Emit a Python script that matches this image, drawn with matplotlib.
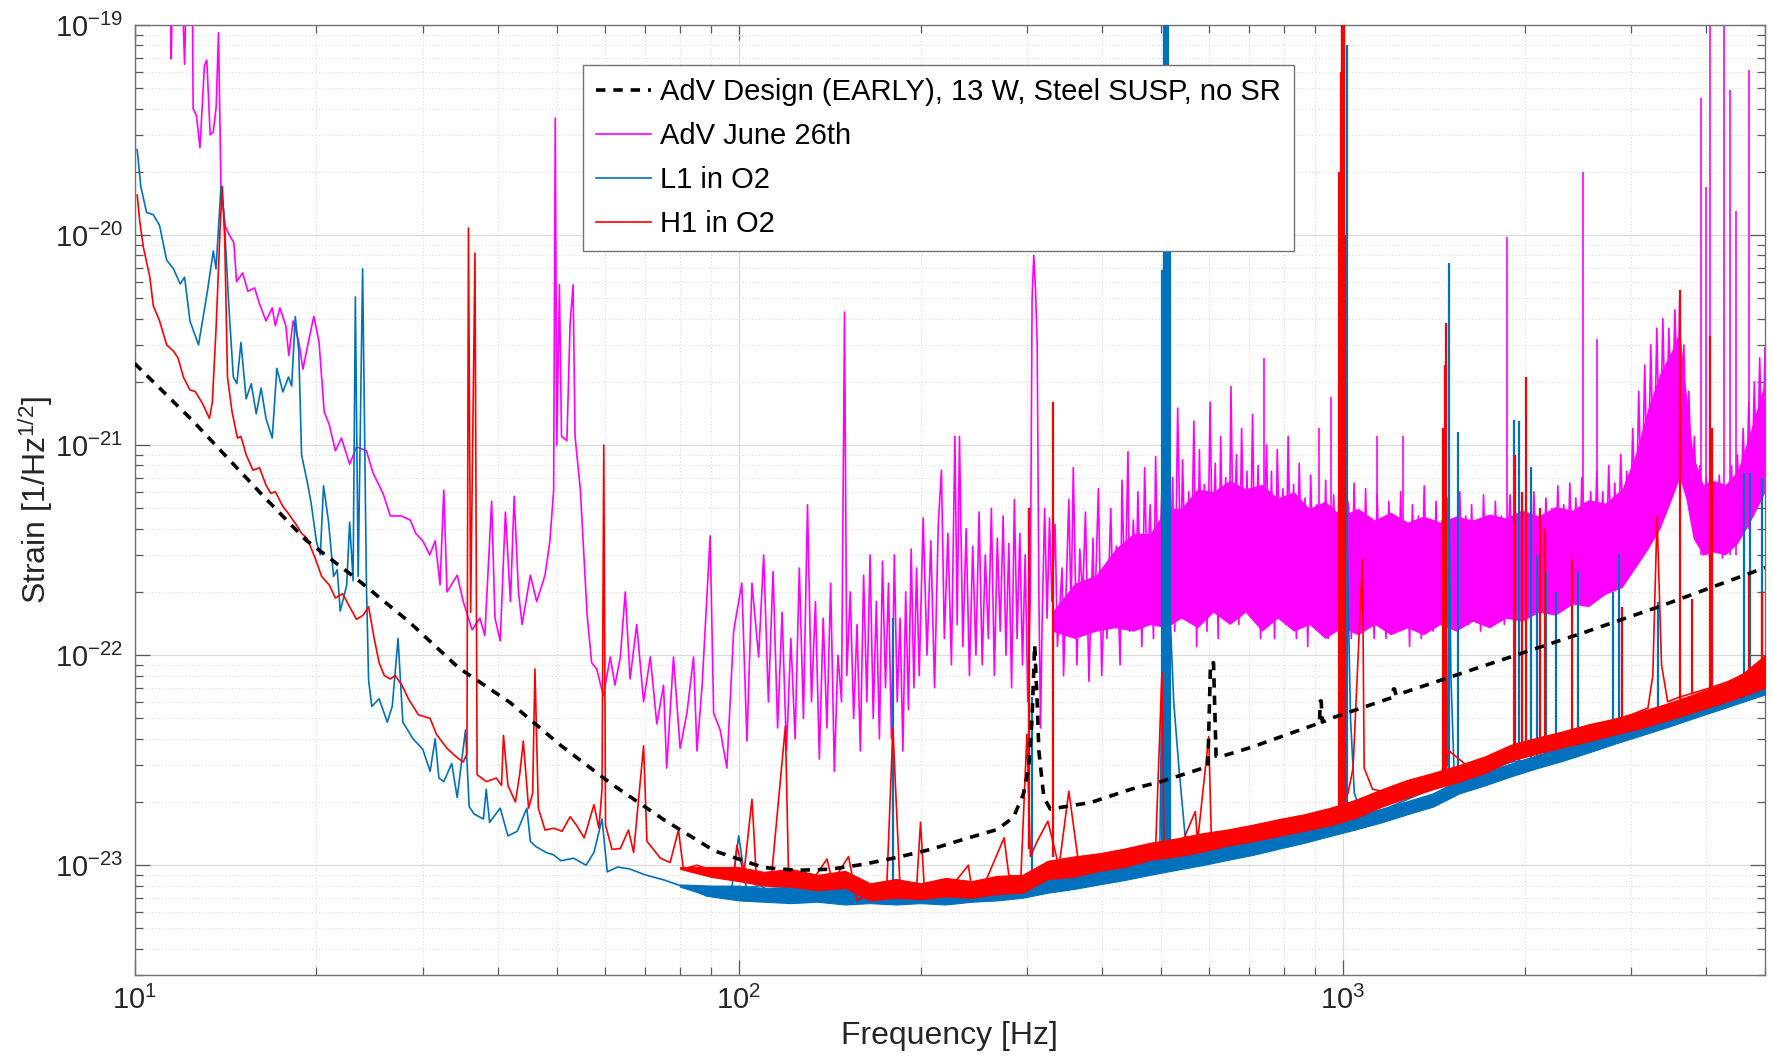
import matplotlib
matplotlib.use("Agg")
import matplotlib.pyplot as plt
from matplotlib.ticker import LogLocator, FixedLocator, NullFormatter

plt.rcParams['font.family'] = ['Liberation Sans', 'DejaVu Sans']
plt.rcParams['mathtext.fontset'] = 'custom'
plt.rcParams['mathtext.rm'] = 'Liberation Sans'
plt.rcParams['mathtext.it'] = 'Liberation Sans:italic'
plt.rcParams['mathtext.bf'] = 'Liberation Sans:bold'
plt.rcParams['mathtext.default'] = 'rm'

# ---------------- data ----------------
design_freq = [10, 12.5, 16.4, 19.2, 23.3, 28.4, 34.4, 41.9, 50.8, 61.8, 75.1, 91.2, 110, 125,
               142, 161, 183, 208, 236, 268, 285, 296, 302, 306, 309, 312, 314, 320, 328, 383,
               446, 500, 598, 604, 611, 617, 635, 703, 915, 918, 921, 925, 965, 1210, 1213,
               1218, 1225, 1846, 2504, 3355, 5000]
design_strain = [2.45e-21, 1.3e-21, 5.65e-22, 3.54e-22, 2.31e-22, 1.45e-22, 8.7e-23, 5.93e-23,
                 3.71e-23, 2.42e-23, 1.65e-23, 1.17e-23, 9.75e-24, 9.46e-24, 9.57e-24, 1.01e-23,
                 1.09e-23, 1.19e-23, 1.33e-23, 1.48e-23, 1.69e-23, 2.18e-23, 2.91e-23, 5.03e-23,
                 1.12e-22, 6.0e-23, 3.5e-23, 2.1e-23, 1.85e-23, 1.99e-23, 2.3e-23, 2.5e-23,
                 2.95e-23, 9.2e-23, 9.2e-23, 3.3e-23, 3.32e-23, 3.63e-23, 4.75e-23, 6.05e-23,
                 6.05e-23, 4.8e-23, 5.05e-23, 6.3e-23, 6.9e-23, 6.9e-23, 6.45e-23, 9.56e-23,
                 1.28e-22, 1.71e-22, 2.61e-22]

adv_freq = [11.45, 11.5, 11.6, 11.9, 12.1, 12.25, 12.45, 12.5, 12.66, 12.83, 13.05, 13.17, 13.34,
            13.5, 13.65, 13.77, 13.9, 14.13, 14.35, 14.6, 14.75, 15.1, 15.4, 15.8, 16.1, 16.5,
            16.9, 17.1, 17.4, 17.8, 18.0, 18.3, 18.7, 19.0, 19.4, 19.8, 20.2, 20.6, 21.0, 21.5,
            22.0, 22.7, 23.3, 24.2, 24.8, 25.8, 26.5, 27.6, 28.6, 29.2, 30.0, 30.8, 31.45, 32.04,
            32.5, 32.9, 34.2, 35.0, 36.2, 37.3, 38.0, 39.0, 39.5, 40.3, 41.1, 41.9, 42.5, 43.2,
            43.8, 45.2, 46.3, 47.8, 48.7, 49.4, 49.7, 50.0, 50.5, 50.9, 51.96, 52.6, 53.2, 53.6,
            54.7, 56.1, 57.1, 58.2, 59.7, 61.3, 62.4, 63.7, 64.9, 66.1, 67.8, 69.6, 71.4, 73.2,
            75.1, 76.0, 78.0, 80.0, 82.1, 84.2, 85.3, 87.0, 89.7, 90.9, 93.2, 95.6, 98.1, 101.2,
            103.2, 105.2, 107.9, 110, 112, 114, 116, 118, 120, 122, 124, 126, 128, 130, 132, 134,
            136, 138, 140, 142, 144, 146, 148, 149.7, 151, 153, 155, 157, 159, 161, 163, 165,
            167, 169, 171, 173, 175, 177, 179, 181, 183, 185, 187, 189, 191, 193, 195, 197, 199,
            202, 205, 208, 211, 214, 216.6, 219, 222, 225, 228, 230, 232, 235, 238, 241, 244,
            247, 250, 253, 256, 259, 262, 265, 268, 271, 274, 277, 280, 283, 286, 289, 292, 295,
            298, 301, 304, 306, 308, 310, 312, 314, 316, 318, 321, 324, 327,
            330, 334, 337, 343, 345, 352, 355, 358, 363, 367, 371, 375, 380, 386, 388, 394, 399,
            404, 407, 413, 417, 422, 428, 431, 436, 441, 444, 450, 455, 458, 465, 470, 474, 480,
            486, 490, 495, 502, 507, 512, 518, 523, 527, 533, 539, 543, 551, 556, 561, 567, 573,
            579, 584, 590, 596, 603, 609, 615, 622, 628, 633, 640, 647, 653, 659, 667, 673, 680,
            688, 694, 701, 709, 716, 724, 731, 748, 755, 762, 771, 779, 788, 796, 804, 812, 821,
            829, 838, 847, 857, 866, 875, 885, 895, 905, 928, 937, 946, 966, 976, 987, 1022, 1033,
            1044, 1056, 1067, 1079, 1091, 1103, 1115, 1127, 1140, 1153, 1166, 1179, 1192, 1206,
            1219, 1233, 1247, 1261, 1275, 1290, 1304, 1319, 1334, 1349, 1364, 1380, 1395, 1411,
            1427, 1443, 1460, 1476, 1493, 1510, 1527, 1544, 1562, 1580, 1598, 1616, 1634, 1653,
            1672, 1691, 1710, 1729, 1749, 1769, 1789, 1809, 1830, 1851, 1892, 1914, 1936, 1958,
            1980, 2003, 2026, 2049, 2072, 2096, 2120, 2144, 2169, 2193, 2219, 2244, 2270, 2296,
            2322, 2349, 2376, 2403, 2431, 2459, 2487, 2544, 2573, 2603, 2633, 2663, 2694, 2725,
            2756, 2788, 2820, 2852, 2885, 2918, 2952, 2986, 3020, 3055, 3090, 3125, 3161, 3198,
            3235, 3272, 3310, 3348, 3387, 3426, 3466, 3506, 3546, 3587, 3611, 3640, 3670, 3700,
            3740, 3780, 3820, 3860, 3900, 3950, 4000, 4050, 4100, 4150, 4200, 4250, 4300, 4350,
            4400, 4450, 4500, 4550, 4600, 4650, 4700, 4750, 4800, 4850, 4900, 4950, 5000]
adv_strain = [3e-19, 6.9e-20, 3e-19, 3e-19, 6.5e-20, 3e-19, 3e-19, 4.0e-20, 3.7e-20, 2.6e-20,
              6.4e-20, 6.8e-20, 3.0e-20, 3.1e-20, 4.1e-20, 9.2e-20, 1.7e-20, 1.1e-20, 1.0e-20,
              9.2e-21, 6.0e-21, 6.6e-21, 5.4e-21, 5.6e-21, 4.7e-21, 3.9e-21, 4.5e-21, 3.7e-21,
              4.5e-21, 3.7e-21, 2.67e-21, 3.9e-21, 3.1e-21, 2.3e-21, 3.1e-21, 4.1e-21, 3.1e-21,
              1.44e-21, 1.25e-21, 9.4e-22, 1.08e-21, 8.1e-22, 9.8e-22, 9.4e-22, 7.4e-22, 5.85e-22,
              4.6e-22, 4.6e-22, 4.4e-22, 3.8e-22, 3.5e-22, 3.0e-22, 3.5e-22, 2.16e-22, 6.1e-22,
              2.0e-22, 2.4e-22, 1.8e-22, 1.32e-22, 1.5e-22, 1.24e-22, 5.4e-22, 1.5e-22, 1.17e-22,
              4.8e-22, 1.8e-22, 5.7e-22, 2.0e-22, 1.4e-22, 2.4e-22, 1.8e-22, 2.4e-22, 3.5e-22,
              6.1e-22, 3.6e-20, 1.0e-21, 5.8e-21, 1.1e-21, 1.05e-21, 3.8e-21, 5.8e-21, 1.1e-21,
              6.1e-22, 1.58e-22, 9.2e-23, 8.6e-23, 6.4e-23, 9.8e-23, 7.2e-23, 9.8e-23, 2.0e-22,
              7.7e-23, 1.4e-22, 6.0e-23, 9.8e-23, 4.7e-23, 7.2e-23, 2.9e-23, 9.8e-23, 3.6e-23,
              5.3e-23, 9.8e-23, 3.5e-23, 7.2e-23, 3.7e-22, 5.3e-23, 4.4e-23, 2.9e-23, 1.3e-22,
              2.2e-22, 3.9e-23, 2.2e-22, 9.8e-23, 3.0e-22, 6e-23, 2.5e-22, 4.5e-23, 1.6e-22,
              3.5e-23, 1.2e-22, 4e-23, 2.6e-22, 5e-23, 5.2e-22, 6e-23, 1.8e-22, 3.2e-23, 1.5e-22,
              4.5e-23, 2.2e-22, 2.8e-23, 1.0e-22, 6e-23, 4.3e-21, 8e-23, 2.0e-22, 5e-23, 1.4e-22,
              3.5e-23, 2.4e-22, 6e-23, 3.0e-22, 5e-23, 1.8e-22, 4e-23, 2.8e-22, 7e-23, 2.2e-22,
              4e-23, 3.0e-22, 6e-23, 1.5e-22, 3.5e-23, 2.0e-22, 5.5e-23, 3.2e-22, 7e-23, 2.6e-22,
              8e-23, 4.5e-22, 1.0e-22, 3.5e-22, 7e-23, 4.2e-22, 7.6e-22, 1.2e-22, 3.8e-22, 9e-23,
              1.1e-21, 1.4e-22, 1.1e-21, 1.1e-22, 4.0e-22, 8e-23, 3.3e-22, 1.0e-22, 4.8e-22,
              9e-23, 3.0e-22, 1.2e-22, 5e-22, 8e-23, 3.6e-22, 1.3e-22, 4.6e-22, 1.0e-22, 3.4e-22,
              7e-23, 5.5e-22, 1.2e-22, 3.8e-22, 9e-23, 3.0e-22, 6e-23, 2.0e-22, 5e-21, 8.0e-21,
              5.5e-21, 3e-21, 2e-22, 4.5e-23, 1.5e-22, 5e-22, 1.5e-22, 4.5e-22,
              1.8e-22, 4.2e-22, 1.1e-22, 2.6e-22, 8e-23, 5.5e-22, 1.6e-22, 7.8e-22, 9e-23, 3.2e-22,
              1.9e-22, 4.8e-22, 7.5e-23, 3.6e-22, 1.4e-22, 6.2e-22, 8e-23, 2.4e-22, 1.2e-22,
              5.0e-22, 1.5e-22, 3.3e-22, 9e-23, 6.8e-22, 1.8e-22, 9.3e-22, 1.3e-22, 4.4e-22,
              2.1e-22, 6.0e-22, 1.1e-22, 7.8e-22, 2.3e-22, 5.2e-22, 1.2e-22, 8.8e-22, 1.9e-22,
              6.2e-22, 1.4e-22, 1.15e-21, 2.4e-22, 7e-22, 1.3e-22, 1.5e-21, 2.6e-22, 8.5e-22,
              1.5e-22, 6.0e-22, 2.2e-22, 1.3e-21, 1.1e-22, 9.5e-22, 2.3e-22, 6.5e-22, 1.3e-22,
              1.6e-21, 2.5e-22, 8.2e-22, 1.2e-22, 1.1e-21, 2.6e-22, 7e-22, 1.5e-22, 1.9e-21,
              2.8e-22, 9e-22, 1.4e-22, 1.2e-21, 2.2e-22, 7.5e-22, 1.6e-22, 1.4e-21, 2.0e-22, 8e-22,
              1.2e-22, 1.0e-21, 1.8e-22, 7.5e-22, 1.2e-22, 9.5e-22, 2.2e-22, 6.2e-22, 1.4e-22,
              1.1e-21, 2.1e-22, 6.5e-22, 1.2e-22, 8.2e-22, 2.0e-22, 5.6e-22, 1.1e-22, 7.2e-22,
              1.7e-22, 5.2e-22, 1.9e-22, 6.8e-22, 1.2e-22, 5.8e-22, 1.6e-22, 7.5e-22, 5.2e-22,
              1.2e-22, 6.6e-22, 1.8e-22, 4.6e-22, 1.3e-22, 6.2e-22, 1.5e-22, 4.2e-22, 1.2e-22,
              5.8e-22, 1.9e-22, 4.4e-22, 1.2e-22, 5.4e-22, 1.6e-22, 4.0e-22, 1.3e-22, 6.0e-22,
              1.7e-22, 4.2e-22, 1.1e-22, 5.2e-22, 1.9e-22, 4.6e-22, 1.2e-22, 6.4e-22, 1.7e-22,
              4.0e-22, 1.3e-22, 5.4e-22, 1.6e-22, 4.4e-22, 1.2e-22, 5.6e-22, 2.0e-22, 4.1e-22,
              1.4e-22, 6.0e-22, 1.8e-22, 4.6e-22, 1.4e-22, 5.2e-22, 1.7e-22, 4.3e-22, 1.3e-22,
              5.8e-22, 2.0e-22, 4.4e-22, 1.5e-22, 5.4e-22, 1.8e-22, 4.6e-22, 1.4e-22, 5.8e-22,
              2.0e-22, 4.6e-22, 1.6e-22, 5.4e-22, 2.1e-22, 4.5e-22, 1.6e-22, 6.0e-22, 2.0e-22,
              4.8e-22, 1.7e-22, 5.6e-22, 2.2e-22, 5.0e-22, 1.8e-22, 6.4e-22, 2.2e-22, 5.2e-22,
              1.9e-22, 6.6e-22, 2.3e-22, 5.6e-22, 2.0e-22, 7e-22, 2.4e-22, 6.0e-22, 2.1e-22,
              7.5e-22, 2.6e-22, 6.0e-22, 2.3e-22, 8e-22, 2.7e-22, 6.6e-22, 2.5e-22, 9e-22, 3.0e-22,
              7.5e-22, 3.2e-22, 1.2e-21, 3.6e-22, 1.8e-21, 4.2e-22, 2.4e-21, 5.0e-22, 3.0e-21,
              6e-22, 3.6e-21, 7e-22, 4.0e-21, 9e-22, 3.6e-21, 1.1e-21, 4.4e-21, 1.5e-21, 4.9e-21,
              1.3e-21, 3.0e-21, 9e-22, 1.8e-21, 6e-22, 1.1e-21, 4e-22, 8e-22, 3.0e-22, 7e-22,
              2.8e-22, 6.5e-22, 3.2e-22, 7.2e-22, 2.9e-22, 6.2e-22, 3.3e-22, 8e-22, 3.4e-22, 9e-22,
              4e-22, 1.2e-21, 4.5e-22, 1.6e-21, 5e-22, 2.0e-21, 6e-22, 2.6e-21, 7e-22, 2.9e-21]

# dense core of the AdV spectrum above ~330 Hz (the part that looks solid)
adv_core_freq = [330, 360, 390, 420, 450, 480, 510, 540, 575, 610, 650, 690, 735, 780, 830, 880,
                 935, 995, 1060, 1130, 1200, 1280, 1360, 1450, 1540, 1640, 1750, 1860, 1980, 2110,
                 2250, 2400, 2550, 2720, 2900, 3050, 3200, 3350, 3500, 3611, 3700, 3800, 3950,
                 4100, 4300, 4500, 4700, 4850, 5000]
adv_core_low = [1.3e-22, 1.2e-22, 1.3e-22, 1.35e-22, 1.3e-22, 1.4e-22, 1.35e-22, 1.5e-22, 1.35e-22,
                1.6e-22, 1.4e-22, 1.6e-22, 1.3e-22, 1.5e-22, 1.3e-22, 1.4e-22, 1.2e-22, 1.35e-22,
                1.25e-22, 1.4e-22, 1.25e-22, 1.35e-22, 1.25e-22, 1.4e-22, 1.3e-22, 1.45e-22,
                1.35e-22, 1.5e-22, 1.45e-22, 1.6e-22, 1.55e-22, 1.75e-22, 1.7e-22, 1.95e-22,
                2.1e-22, 2.6e-22, 3.2e-22, 4.0e-22, 5.5e-22, 7e-22, 5.5e-22, 3.6e-22, 3.0e-22,
                3.1e-22, 3.0e-22, 3.4e-22, 4.2e-22, 5.0e-22, 6.0e-22]
adv_core_high = [1.6e-22, 2.2e-22, 2.4e-22, 3.2e-22, 3.8e-22, 3.8e-22, 5.0e-22, 5.0e-22, 6.2e-22,
                 6.0e-22, 6.8e-22, 6.2e-22, 6.5e-22, 5.6e-22, 6.0e-22, 5.0e-22, 5.4e-22, 4.6e-22,
                 5.0e-22, 4.4e-22, 4.8e-22, 4.3e-22, 4.6e-22, 4.3e-22, 4.6e-22, 4.4e-22, 4.7e-22,
                 4.5e-22, 4.9e-22, 4.6e-22, 5.1e-22, 4.9e-22, 5.5e-22, 5.3e-22, 6.2e-22, 9e-22,
                 1.5e-21, 2.2e-21, 2.8e-21, 3.5e-21, 1.8e-21, 9e-22, 6.5e-22, 6.8e-22, 6.5e-22,
                 7.5e-22, 1.1e-21, 1.5e-21, 2.0e-21]

adv_line_freq = [740, 915, 956, 1140, 1260, 1870, 2500, 2640, 3917, 4000, 4050, 4270, 4380, 4480,
                 4700]
adv_line_base = [2e-22, 1.5e-22, 1.5e-22, 1.5e-22, 1.5e-22, 1.6e-22, 2e-22, 2e-22, 3e-22, 3e-22,
                 3e-22, 3e-22, 3e-22, 3e-22, 4e-22]
adv_line_top = [2.6e-21, 1.2e-21, 1.7e-21, 1.1e-21, 1.1e-21, 9.8e-21, 2.0e-20, 3.2e-21, 4.5e-20,
                1.7e-20, 3e-19, 3e-19, 4.9e-20, 1.3e-20, 6.1e-20]

l1_freq = [10.1, 10.24, 10.47, 10.74, 11.0, 11.3, 11.6, 11.9, 12.1, 12.35, 12.76, 13.2, 13.5, 13.64,
           13.9, 14.07, 14.3, 14.57, 14.77, 15.0, 15.3, 15.6, 15.9, 16.2, 16.5, 16.9, 17.2, 17.6,
           17.98, 18.2, 18.45, 18.7, 18.9, 19.3, 19.6, 20.0, 20.3, 20.55, 20.93, 21.35, 21.65,
           21.9, 22.45, 22.7, 23.0, 23.2, 23.45, 23.85, 24.2, 24.4, 24.7, 25.4, 26.2, 26.7, 27.3,
           27.8, 28.9, 30.0, 30.85, 31.45, 31.9, 32.5, 33.5, 34.2, 35.3, 35.8, 36.5, 37.8, 38.2,
           38.7, 40.3, 41.5, 43, 44.6, 45.2, 46.1, 48, 49.4, 50.8, 53.3, 55.9, 57.6, 59.4, 60.6,
           63, 66, 70, 75.3, 80, 85.2, 88.9, 93, 97, 100, 103, 108.5, 115, 125, 135, 145, 155, 165,
           175, 185, 195, 205, 220, 235, 250, 265, 280, 295, 310, 325, 340, 360, 380, 400, 430,
           460, 490, 498, 503, 510, 518, 525, 535, 548, 570, 600, 650, 700, 760, 820, 880, 940,
           990, 1012, 1020, 1030, 1045, 1080, 1150, 1250, 1350, 1450, 1490, 1500, 1510, 1530, 1600,
           1700, 1800, 1900, 2000, 2200, 2400, 2600, 2800, 3000, 3200, 3300, 3400, 3600, 3800, 4000,
           4300, 4600, 5000]
l1_strain = [2.55e-20, 1.70e-20, 1.28e-20, 1.25e-20, 1.11e-20, 7.6e-21, 6.9e-21, 5.85e-21, 6.3e-21,
             3.9e-21, 3.0e-21, 5.4e-21, 8.4e-21, 6.9e-21, 1.7e-20, 1.22e-20, 4.95e-21, 2.11e-21,
             1.96e-21, 3.08e-21, 1.66e-21, 1.96e-21, 1.41e-21, 1.87e-21, 1.34e-21, 1.08e-21,
             2.32e-21, 1.79e-21, 2.11e-21, 1.91e-21, 4.09e-21, 2.8e-21, 8.97e-22, 6.75e-22, 5.3e-22,
             3.47e-22, 3.0e-22, 6.4e-22, 4.4e-22, 2.37e-22, 2.55e-22, 1.62e-22, 2.16e-22, 4.3e-22,
             2.26e-22, 5.07e-21, 2.37e-22, 6.9e-21, 2.16e-22, 7.6e-23, 5.7e-23, 6.2e-23, 4.8e-23,
             5.7e-23, 1.2e-22, 4.8e-23, 4.0e-23, 3.56e-23, 2.8e-23, 4.0e-23, 2.6e-23, 2.5e-23,
             3.05e-23, 2.1e-23, 4.4e-23, 1.9e-23, 1.75e-23, 1.66e-23, 2.3e-23, 1.6e-23, 1.87e-23,
             1.38e-23, 1.45e-23, 1.87e-23, 1.3e-23, 1.23e-23, 1.15e-23, 1.12e-23, 1.05e-23,
             1.08e-23, 1.0e-23, 1.15e-23, 1.66e-23, 9.3e-24, 9.8e-24, 9.6e-24, 9.0e-24, 8.5e-24,
             8.0e-24, 7.5e-24, 7.1e-24, 7.4e-24, 7.1e-24, 1.38e-23, 7.8e-24, 8.0e-24, 7.3e-24,
             7.8e-24, 7.2e-24, 7.6e-24, 7.0e-24, 7.5e-24, 7.1e-24, 7.4e-24, 6.9e-24, 7.3e-24,
             7.0e-24, 7.4e-24, 7.1e-24, 7.6e-24, 7.3e-24, 7.8e-24, 8.0e-24, 8.4e-24, 8.2e-24,
             8.6e-24, 8.9e-24, 9.0e-24, 9.6e-24, 1.0e-23, 1.05e-23, 1.2e-23, 1.5e-22, 2.5e-22,
             1.5e-22, 6e-23, 3e-23, 1.4e-23, 1.12e-23, 1.15e-23, 1.2e-23, 1.2e-23, 1.3e-23, 1.35e-23,
             1.42e-23, 1.5e-23, 1.6e-23, 8e-22, 2e-22, 5e-23, 2.2e-23, 1.7e-23, 1.8e-23, 2.0e-23,
             2.2e-23, 2.4e-23, 3e-23, 5e-22, 8e-23, 2.6e-23, 2.5e-23, 2.75e-23, 2.95e-23, 3.1e-23,
             3.15e-23, 3.4e-23, 3.7e-23, 3.95e-23, 4.3e-23, 4.5e-23, 4.8e-23, 5.5e-23, 5.0e-23,
             5.2e-23, 5.6e-23, 5.8e-23, 6.1e-23, 6.5e-23, 7.0e-23]

o2_band_freq = [80, 90, 100, 110, 122, 135, 150, 165, 182, 200, 220, 243, 268, 295, 325,
                358, 395, 435, 480, 530, 585, 645, 710, 785, 865, 955, 1050, 1160, 1280, 1410,
                1560, 1720, 1900, 2100, 2320, 2560, 2830, 3120, 3450, 3800, 4200, 4600, 5000]
l1_band_low = [7.9e-24, 7.1e-24, 6.8e-24, 6.7e-24, 6.6e-24, 6.7e-24, 6.5e-24,
               6.6e-24, 6.5e-24, 6.6e-24, 6.5e-24, 6.7e-24, 6.8e-24, 7.0e-24, 7.4e-24, 7.7e-24,
               8.1e-24, 8.5e-24, 9.0e-24, 9.5e-24, 1.0e-23, 1.06e-23, 1.12e-23, 1.2e-23, 1.28e-23,
               1.38e-23, 1.48e-23, 1.6e-23, 1.75e-23, 1.9e-23, 2.2e-23, 2.4e-23, 2.65e-23, 2.9e-23,
               3.15e-23, 3.45e-23, 3.8e-23, 4.15e-23, 4.55e-23, 5.0e-23, 5.5e-23, 6.0e-23, 6.5e-23]
l1_band_high = [8.1e-24, 8.0e-24, 8.0e-24, 7.8e-24, 7.9e-24, 7.7e-24, 7.8e-24,
                7.6e-24, 7.7e-24, 7.6e-24, 7.8e-24, 7.8e-24, 8.0e-24, 8.3e-24, 8.8e-24, 9.1e-24,
                9.5e-24, 1.0e-23, 1.07e-23, 1.12e-23, 1.18e-23, 1.25e-23, 1.32e-23, 1.4e-23,
                1.5e-23, 1.6e-23, 1.72e-23, 1.86e-23, 2.02e-23, 2.2e-23, 2.55e-23, 2.8e-23,
                3.05e-23, 3.35e-23, 3.65e-23, 4.0e-23, 4.4e-23, 4.8e-23, 5.25e-23, 5.75e-23,
                6.35e-23, 6.95e-23, 7.5e-23]

l1_line_freq = [180, 306, 502, 506, 510, 514, 518, 998, 1006, 1016, 1500, 1550, 1918, 1958, 2050,
                2100, 2170, 2250, 2450, 2800, 2870, 3330, 4620, 4720, 4950]
l1_line_base = [7.5e-24, 8e-24, 1.2e-23, 1.2e-23, 1.2e-23, 1.2e-23, 1.2e-23, 1.6e-23, 1.6e-23,
                1.6e-23, 2.4e-23, 2.5e-23, 3.1e-23, 3.1e-23, 3.2e-23, 3.3e-23, 3.3e-23, 3.4e-23,
                3.7e-23, 4.3e-23, 4.4e-23, 5e-23, 6.5e-23, 6.6e-23, 7e-23]
l1_line_top = [1.5e-22, 6.3e-23, 6.8e-21, 3e-19, 3e-19, 3e-19, 2e-20, 3e-19, 3e-19, 8e-20, 7.4e-21,
               1.15e-21, 1.32e-21, 1.3e-21, 7.9e-22, 3e-22, 2.5e-22, 2e-22, 2.5e-22, 2e-22, 3e-22,
               1.8e-22, 7.4e-22, 7.4e-22, 7e-22]

h1_freq = [10.1, 10.2, 10.34, 10.6, 10.74, 11.0, 11.3, 11.6, 11.8, 12.05, 12.35, 12.6, 12.95, 13.3,
           13.45, 13.65, 13.85, 13.97, 14.1, 14.25, 14.5, 14.8, 15.0, 15.3, 15.7, 16.1, 16.5, 16.8,
           17.1, 17.6, 17.9, 18.5, 18.9, 19.3, 19.9, 20.4, 21.0, 21.5, 22.1, 22.7, 23.3, 23.9,
           24.4, 24.9, 25.4, 25.9, 26.5, 27.0, 27.7, 28.4, 29.5, 30.85, 31.6, 32.9, 34.2, 35.0,
           35.5, 35.7, 36.0, 36.6, 36.9, 38.2, 39.7, 40.5, 40.8, 41.5, 42.7, 43.4, 44.0, 44.9,
           45.6, 46.0, 46.6, 47.8, 49.4, 51, 52.6, 53.9, 55.5, 57.6, 58.7, 59.4, 59.8, 60.2, 61.7,
           63.7, 65.7, 67.0, 69.6, 70.5, 74.2, 77.0, 79.5, 81.0, 85.3, 88.9, 93.2, 98.1, 99.3, 102,
           105.2, 107, 113, 119.5, 121, 130, 140, 143, 152, 157, 165, 176, 180, 185, 197, 200, 203,
           213, 224, 240, 243, 255, 275, 280, 293, 300, 304, 312, 325, 339, 352, 366, 383, 400,
           430, 460, 490, 502, 506, 540, 570, 575, 600, 606, 650, 700, 760, 820, 880, 940, 980,
           1020, 1040, 1078, 1085, 1120, 1200, 1300, 1400, 1460, 1500, 1600, 1700, 1800, 1900,
           2000, 2200, 2400, 2600, 2800, 3000, 3200, 3260, 3313, 3370, 3450, 3600, 3800, 4000,
           4300, 4600, 4800, 5000]
h1_strain = [1.55e-20, 1.16e-20, 8.75e-21, 6.3e-21, 4.6e-21, 3.9e-21, 3.0e-21, 2.8e-21, 2.6e-21,
             2.1e-21, 1.83e-21, 1.8e-21, 1.58e-21, 1.34e-21, 1.6e-21, 3.7e-21, 1.06e-20, 1.7e-20,
             9.6e-21, 2.1e-21, 1.44e-21, 1.08e-21, 1.1e-21, 9.0e-22, 7.6e-22, 7.8e-22, 6.45e-22,
             5.9e-22, 6.0e-22, 5.1e-22, 4.8e-22, 4.2e-22, 3.8e-22, 3.6e-22, 2.9e-22, 2.37e-22,
             2.16e-22, 1.87e-22, 1.96e-22, 1.7e-22, 1.48e-22, 1.55e-22, 1.7e-22, 1.22e-22, 9.2e-23,
             8.0e-23, 7.7e-23, 8.0e-23, 7.2e-23, 6.2e-23, 5.2e-23, 5.0e-23, 4.2e-23, 3.6e-23,
             3.25e-23, 3.1e-23, 3.4e-23, 1.08e-20, 1.6e-22, 8.2e-21, 2.7e-23, 2.5e-23, 2.6e-23,
             2.4e-23, 4.15e-23, 2.4e-23, 2.0e-23, 2.7e-23, 3.9e-23, 1.87e-23, 2.2e-23, 8.6e-23,
             1.87e-23, 1.47e-23, 1.5e-23, 1.45e-23, 1.7e-23, 1.55e-23, 1.35e-23, 1.94e-23, 1.5e-23,
             2.3e-23, 1.0e-21, 1.55e-23, 1.19e-23, 1.2e-23, 1.47e-23, 1.15e-23, 3.7e-23, 1.3e-23,
             1.08e-23, 1.03e-23, 1.47e-23, 9.6e-24, 1.0e-23, 9.6e-24, 9.0e-24, 8.7e-24, 1.24e-23,
             9.1e-24, 2.06e-23, 8.7e-24, 8.1e-24, 4.6e-23, 8.3e-24, 7.8e-24, 1.07e-23, 8.3e-24,
             1.1e-23, 6.8e-24, 7.3e-24, 8.4e-24, 4.5e-23, 7.8e-24, 7.8e-24, 1.6e-23, 7.6e-24,
             7.5e-24, 7.8e-24, 1.0e-23, 7.8e-24, 8.1e-24, 1.35e-23, 9.0e-24, 8.4e-24, 4.2e-23,
             1.1e-23, 1.3e-23, 1.62e-23, 9.8e-24, 2.25e-23, 9.8e-24, 1.09e-23, 1.05e-23, 1.1e-23,
             1.15e-23, 1.2e-23, 8.3e-23, 1.2e-23, 1.25e-23, 1.8e-23, 1.3e-23, 4.1e-23, 1.35e-23,
             1.4e-23, 1.43e-23, 1.5e-23, 1.6e-23, 1.65e-23, 1.75e-23, 1.8e-23, 2.2e-23, 2.9e-23,
             2.86e-22, 2.9e-23, 2.3e-23, 2.2e-23, 2.35e-23, 2.6e-23, 2.8e-23, 3.5e-23, 3.0e-23,
             3.2e-23, 3.4e-23, 3.6e-23, 3.7e-23, 4.0e-23, 4.3e-23, 4.6e-23, 4.9e-23, 5.2e-23,
             5.6e-23, 8e-23, 4.6e-22, 9e-23, 6.0e-23, 6.3e-23, 6.6e-23, 6.9e-23, 7.4e-23, 7.9e-23,
             8.4e-23, 9.0e-23]

h1_band_low = [9.6e-24, 8.8e-24, 8.4e-24, 8.0e-24, 7.9e-24, 7.6e-24, 7.8e-24,
               6.8e-24, 7.0e-24, 6.9e-24, 7.1e-24, 7.0e-24, 7.3e-24, 7.4e-24, 8.6e-24, 8.8e-24,
               9.4e-24, 9.8e-24, 1.06e-23, 1.1e-23, 1.16e-23, 1.24e-23, 1.3e-23, 1.38e-23,
               1.46e-23, 1.55e-23, 1.68e-23, 1.9e-23, 2.1e-23, 2.3e-23, 2.5e-23, 2.75e-23,
               3.15e-23, 3.4e-23, 3.65e-23, 3.9e-23, 4.2e-23, 4.5e-23, 4.9e-23, 5.35e-23, 5.85e-23,
               6.4e-23, 7.0e-23]
h1_band_high = [9.8e-24, 9.8e-24, 9.8e-24, 9.3e-24, 9.6e-24, 9.0e-24, 9.4e-24,
                8.2e-24, 8.6e-24, 8.2e-24, 8.7e-24, 8.4e-24, 8.9e-24, 9.0e-24, 1.05e-23, 1.1e-23,
                1.14e-23, 1.2e-23, 1.28e-23, 1.34e-23, 1.42e-23, 1.48e-23, 1.56e-23, 1.66e-23,
                1.75e-23, 1.88e-23, 2.05e-23, 2.3e-23, 2.55e-23, 2.75e-23, 3.0e-23, 3.3e-23,
                3.75e-23, 4.05e-23, 4.35e-23, 4.7e-23, 5.0e-23, 5.4e-23, 5.9e-23, 6.5e-23, 7.2e-23,
                8.2e-23, 1.0e-22]

h1_line_freq = [302, 332, 985, 992, 998, 1003, 1009, 1465, 1474, 1483, 1925, 1980, 2010, 2120, 2160,
                2400, 2900, 3611, 3790, 4050, 4080, 4700, 4950]
h1_line_base = [1.2e-23, 1.1e-23, 1.8e-23, 1.8e-23, 1.8e-23, 1.8e-23, 1.8e-23, 2.8e-23, 2.8e-23,
                2.8e-23, 3.6e-23, 3.7e-23, 3.7e-23, 3.9e-23, 3.9e-23, 4.3e-23, 5e-23, 6.2e-23,
                6.6e-23, 6.9e-23, 6.9e-23, 8e-23, 9e-23]
h1_line_top = [5e-22, 1.6e-21, 2e-20, 6e-20, 3e-19, 3e-19, 1e-20, 1.2e-21, 2.4e-21, 3.8e-21, 9e-22,
               6e-22, 2.1e-21, 5e-22, 4e-22, 2.86e-22, 1.7e-22, 5.5e-21, 1.85e-22, 3.3e-21, 1.2e-21,
               2.5e-22, 2e-22]

x_tick_values = [10, 100, 1000]
x_tick_labels = ['$10^{1}$', '$10^{2}$', '$10^{3}$']
y_tick_values = [1e-23, 1e-22, 1e-21, 1e-20, 1e-19]
y_tick_labels = ['$10^{-23}$', '$10^{-22}$', '$10^{-21}$', '$10^{-20}$', '$10^{-19}$']

label_design = 'AdV Design (EARLY), 13 W, Steel SUSP, no SR'
label_adv = 'AdV June 26th'
label_l1 = 'L1 in O2'
label_h1 = 'H1 in O2'

# ---------------- plotting ----------------
MAG = '#FF00FF'
BLUE = '#0072BD'
RED = '#FF0000'

fig = plt.figure(figsize=(17.73, 10.58), dpi=100)
ax = fig.add_axes([0.0759, 0.0784, 0.9196, 0.898])
ax.set_xscale('log')
ax.set_yscale('log')

lw = 1.2
ax.fill_between(adv_core_freq, adv_core_low, adv_core_high, color=MAG, lw=0, zorder=2)
h_adv, = ax.plot(adv_freq, adv_strain, color=MAG, lw=lw, zorder=2.1)
ax.vlines(adv_line_freq, adv_line_base, adv_line_top, color=MAG, lw=lw, zorder=2.1)

ax.fill_between(o2_band_freq, l1_band_low, l1_band_high, color=BLUE, lw=0.8, zorder=3)
h_l1, = ax.plot(l1_freq, l1_strain, color=BLUE, lw=lw, zorder=3.1)
ax.vlines(l1_line_freq, l1_line_base, l1_line_top, color=BLUE, lw=1.6, zorder=3.1)

ax.fill_between(o2_band_freq, h1_band_low, h1_band_high, color=RED, lw=0.8, zorder=4)
h_h1, = ax.plot(h1_freq, h1_strain, color=RED, lw=lw, zorder=4.1)
ax.vlines(h1_line_freq, h1_line_base, h1_line_top, color=RED, lw=1.6, zorder=4.1)

h_des, = ax.plot(design_freq, design_strain, color='black', lw=2.6,
                 linestyle=(0, (2.6, 2.2)), zorder=5)

ax.set_xlim(10, 5000)
ax.set_ylim(3e-24, 1e-19)

ax.xaxis.set_major_locator(FixedLocator(x_tick_values))
ax.set_xticklabels(x_tick_labels)
ax.yaxis.set_major_locator(FixedLocator(y_tick_values))
ax.set_yticklabels(y_tick_labels)
ax.xaxis.set_minor_locator(LogLocator(base=10, subs=range(2, 10), numticks=20))
ax.yaxis.set_minor_locator(LogLocator(base=10, subs=range(2, 10), numticks=20))
ax.xaxis.set_minor_formatter(NullFormatter())
ax.yaxis.set_minor_formatter(NullFormatter())

ax.tick_params(which='both', direction='in', top=True, right=True, color='0.35', width=0.9)
ax.tick_params(which='major', length=11, labelsize=21, labelcolor='0.15', pad=8)
ax.tick_params(which='minor', length=6)
for s in ax.spines.values():
    s.set_color('0.45')
    s.set_linewidth(1.0)

ax.grid(which='major', color='0.86', linestyle='-', linewidth=0.9, zorder=0)
ax.grid(which='minor', color='0.86', linestyle=(0, (1, 2)), linewidth=0.8, zorder=0)
ax.set_axisbelow(True)

ax.set_xlabel('Frequency [Hz]', fontsize=23, color='0.15', labelpad=4)
ax.set_ylabel('Strain [1/Hz$^{1/2}$]', fontsize=23, color='0.15', labelpad=0)

leg = ax.legend([h_des, h_adv, h_l1, h_h1], [label_design, label_adv, label_l1, label_h1],
                loc='upper left', bbox_to_anchor=(0.275, 0.958), fontsize=21, frameon=True,
                fancybox=False, edgecolor='0.45', framealpha=1, handlelength=1.9,
                handletextpad=0.3, borderpad=0.45, labelspacing=0.55, borderaxespad=0)
leg.get_frame().set_linewidth(1.0)
leg.set_zorder(10)

fig.savefig('out.png', dpi=100)
